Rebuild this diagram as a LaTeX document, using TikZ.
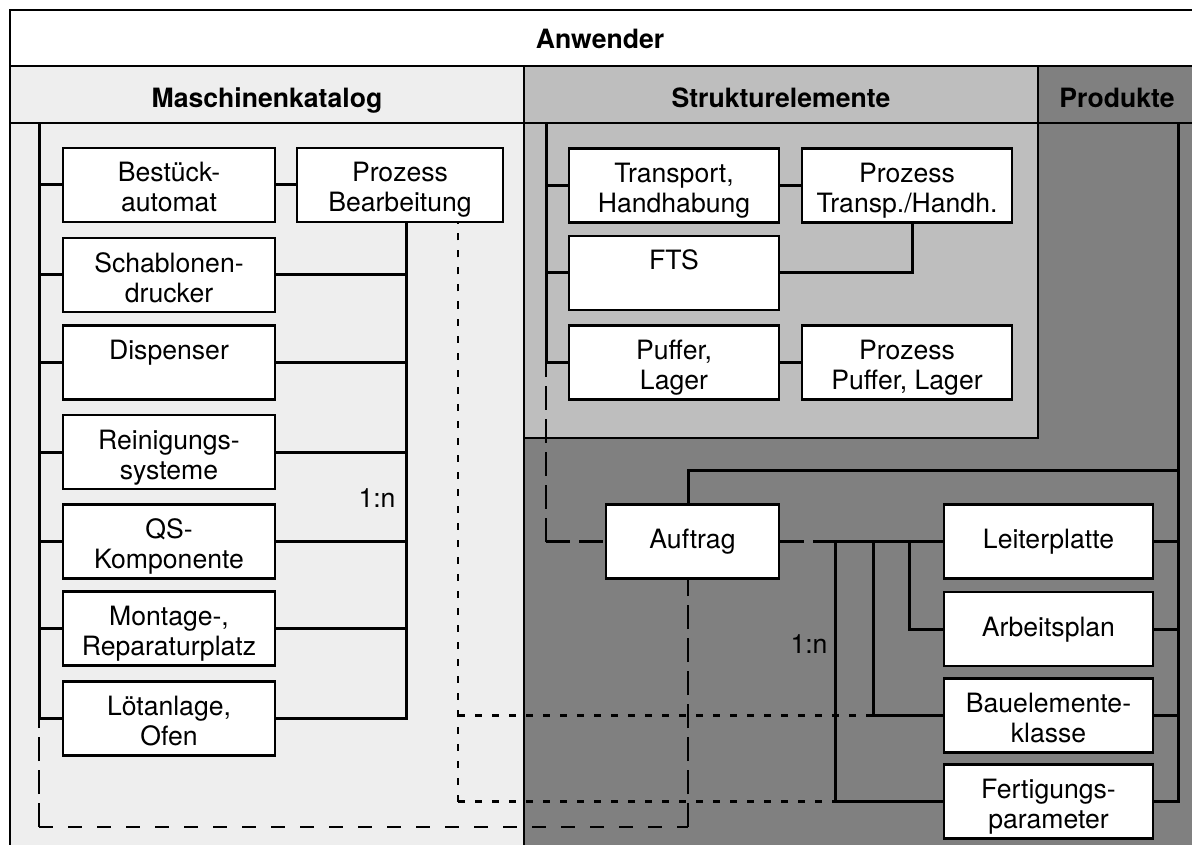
\documentclass[tikz,border=0pt]{standalone}
\usepackage{fontspec}
\setmainfont{TeX Gyre Heros}
\definecolor{paleGray}{gray}{0.933}
\definecolor{midGray}{gray}{0.745}
\definecolor{darkGray}{gray}{0.5}
\newcommand\boxfont{\fontsize{26.6}{30}\selectfont}
\newcommand\headfont{\fontsize{26.6}{30}\selectfont\bfseries}
\begin{document}
\begin{tikzpicture}[x=1pt,y=-1pt,
  frame/.style={line width=2.6pt},
  head/.style={anchor=base, inner sep=0pt, font=\headfont},
  box/.style={draw, line width=2.5pt, fill=white, inner sep=0pt,
    minimum height=74pt, align=center, font=\boxfont},
  % two lines: baseline of the last line 64pt below the top edge
  twoline/.style={text height=64pt, text depth=10pt},
  % one line set where the first of two lines would stand
  firstline/.style={text height=34pt, text depth=40pt},
  oneline/.style={text height=44pt, text depth=30pt},
  lbl/.style={anchor=base, inner sep=0pt, font=\boxfont},
  conn/.style={line width=3pt},
  longdash/.style={line width=2.8pt, dash pattern=on 24pt off 9pt},
  shortdash/.style={line width=2.8pt, dash pattern=on 14pt off 15pt},
  dotline/.style={line width=2.5pt, dash pattern=on 7pt off 10pt}]

\useasboundingbox (0,0) rectangle (1192,845);
\clip (0,0) rectangle (1192,845);

% background areas
\fill[white] (10,10) rectangle (1200,66);
\fill[paleGray] (10,66) rectangle (524,850);
\fill[darkGray] (524,66) rectangle (1200,850);
\fill[midGray] (524,66) rectangle (1038,438);

% frame and column borders
\draw[frame] (10,850) -- (10,10) -- (1200,10);
\draw[frame] (10,66) -- (1200,66);
\draw[frame] (10,123) -- (1200,123);
\draw[frame] (524,66) -- (524,850);
\draw[frame] (1038,66) -- (1038,438) -- (524,438);

% headers
\node[head] (anw) at (600,49) {Anwender};
\node[head] (mk) at (267,108) {Maschinenkatalog};
\node[head] (se) at (781,108) {Strukturelemente};
\node[head] (pr) at (1117,108) {Produkte};

% machine catalogue
\begin{scope}[every node/.append style={minimum width=212pt}]
\node[box,twoline] (bestueck) at (169,185) {Bestück-\\automat};
\node[box,twoline] (schab) at (169,275) {Schablonen-\\drucker};
\node[box,firstline] (disp) at (169,362.5) {Dispenser};
\node[box,twoline] (rein) at (169,452) {Reinigungs-\\systeme};
\node[box,twoline] (qs) at (169,541.5) {QS-\\Komponente};
\node[box,twoline] (mont) at (169,628.5) {Montage-,\\Reparaturplatz};
\node[box,twoline] (loet) at (169,718.5) {Lötanlage,\\Ofen};
\end{scope}
\node[box,twoline,minimum width=206pt] (pb) at (400,185) {Prozess\\Bearbeitung};

% structure elements
\begin{scope}[every node/.append style={minimum width=210pt}]
\node[box,twoline] (trans) at (674,185.5) {Transport,\\Handhabung};
\node[box,twoline] (ptrans) at (907,185.5) {Prozess\\Transp./Handh.};
\node[box,firstline] (fts) at (674,273) {FTS};
\node[box,twoline] (puffer) at (674,362.5) {Puffer,\\Lager};
\node[box,twoline] (ppuffer) at (907,362.5) {Prozess\\Puffer, Lager};
\end{scope}

% products
\node[box,oneline,minimum width=173pt] (auftrag) at (692.5,541.5) {Auftrag};
\begin{scope}[every node/.append style={minimum width=209pt}]
\node[box,oneline] (lp) at (1048.5,541.5) {Leiterplatte};
\node[box,oneline] (ap) at (1048.5,629) {Arbeitsplan};
\node[box,twoline] (bk) at (1048.5,715.5) {Bauelemente-\\klasse};
\node[box,twoline] (fp) at (1048.5,801.5) {Fertigungs-\\parameter};
\end{scope}

% machine bus
\coordinate (busAtop) at (39,123);
\draw[conn] (busAtop) -- (busAtop |- loet.west) -- (loet.west);
\foreach \n in {bestueck,schab,disp,rein,qs,mont}
  \draw[conn] (\n.west) -- (\n.west -| busAtop);
\draw[conn] (bestueck.east) -- (pb.west);
\coordinate (pbdrop) at ([xshift=6pt]pb.south);
\draw[conn] (pbdrop) -- (pbdrop |- loet.east) -- (loet.east);
\foreach \n in {schab,disp,rein,qs,mont}
  \draw[conn] (\n.east) -- (\n.east -| pbdrop);
\node[lbl] (ratioL) at (377,507) {1:n};

% structure bus
\coordinate (busCtop) at (546,123);
\draw[conn] (busCtop) -- (busCtop |- puffer.west) -- (puffer.west);
\draw[conn] (trans.west) -- (trans.west -| busCtop);
\draw[conn] (fts.west) -- (fts.west -| busCtop);
\draw[conn] (trans.east) -- (ptrans.west);
\coordinate (ptdrop) at ([xshift=5pt]ptrans.south);
\draw[conn] (ptdrop) |- (fts.east);
\draw[conn] (puffer.east) -- (ppuffer.west);

% structure elements to order
\coordinate (cCorner) at (busCtop |- auftrag.west);
\draw[longdash] (cCorner) -- (busCtop |- puffer.west);
\draw[longdash] (cCorner) -- (auftrag.west);

% order to product data
\coordinate (jA) at (835,541.5);
\coordinate (jB) at (873,541.5);
\coordinate (jC) at (909,541.5);
\draw[longdash] (auftrag.east) -- (jA);
\draw[conn] (jA) -- (lp.west);
\draw[conn] (jA) |- (fp.west);
\draw[conn] (jB) |- (bk.west);
\draw[conn] (jC) |- (ap.west);
\node[lbl] (ratioR) at (809,653) {1:n};

% product bus
\coordinate (busPtop) at (1178,123);
\draw[conn] (busPtop) -- (busPtop |- fp.east) -- (fp.east);
\foreach \n in {lp,ap,bk}
  \draw[conn] (\n.east) -- (\n.east -| busPtop);
\coordinate (pLink) at (1178,470);
\coordinate (aTop) at ([xshift=-4.5pt]auftrag.north);
\draw[conn] (pLink) -| (aTop);

% machines to order
\coordinate (aBot) at ([xshift=-4.5pt]auftrag.south);
\coordinate (cornerL) at (39,827);
\coordinate (cornerR) at (aBot |- cornerL);
\draw[longdash] (cornerL) -- (busAtop |- loet.west);
\draw[shortdash] (cornerL) -- (cornerR);
\draw[longdash] (cornerR) -- (aBot);

% process to components and parameters
\coordinate (dTop) at ([xshift=58pt]pb.south);
\coordinate (dCorner) at (dTop |- fp.west);
\draw[dotline] (dCorner) -- (dTop);
\draw[dotline] (dCorner) -- (jA |- fp.west);
\draw[dotline] (dTop |- bk.west) -- (jB |- bk.west);
\end{tikzpicture}
\end{document}
